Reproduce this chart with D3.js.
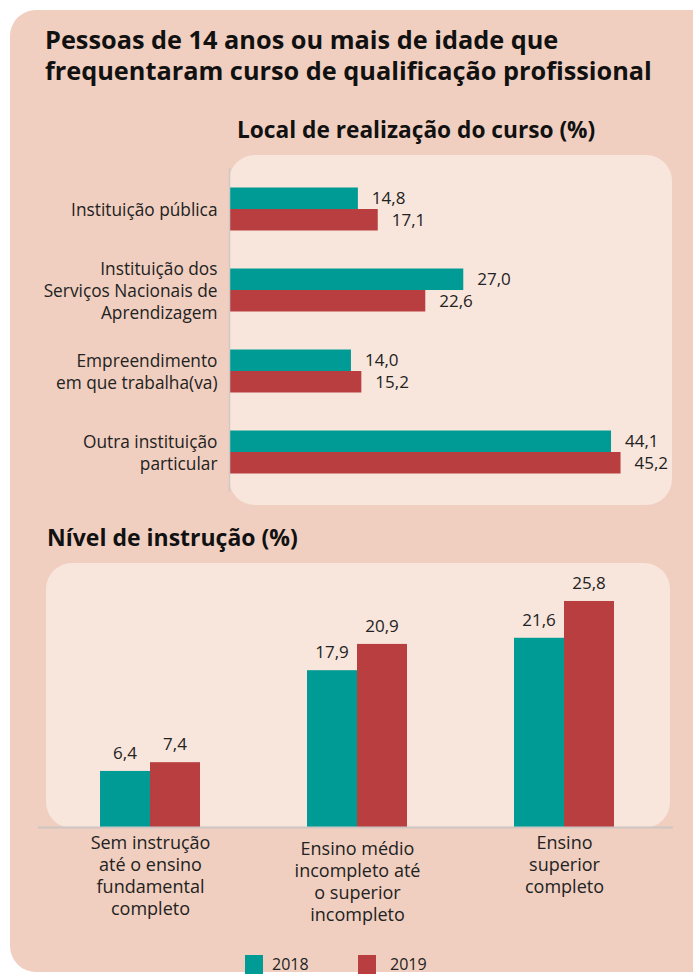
<!DOCTYPE html>
<html>
<head>
<meta charset="utf-8">
<script src="https://cdn.jsdelivr.net/npm/d3@7"></script>
<style>
  body { margin: 0; background: #fff; }
  svg { display: block; font-family: "Open Sans", sans-serif; }
</style>
</head>
<body>
<div id="chart"></div>
<script>
const years = ["2018", "2019"];
const colors = ["#009b94", "#b93e3f"];

const titleLines = [
  "Pessoas de 14 anos ou mais de idade que",
  "frequentaram curso de qualificação profissional"
];

const localCats = [
  ["Instituição pública"],
  ["Instituição dos", "Serviços Nacionais de", "Aprendizagem"],
  ["Empreendimento", "em que trabalha(va)"],
  ["Outra instituição", "particular"]
];
const local2018 = [14.8, 27.0, 14.0, 44.1];
const local2019 = [17.1, 22.6, 15.2, 45.2];

const nivelCats = [
  ["Sem instrução", "até o ensino", "fundamental", "completo"],
  ["Ensino médio", "incompleto até", "o superior", "incompleto"],
  ["Ensino", "superior", "completo"]
];
const nivel2018 = [6.4, 17.9, 21.6];
const nivel2019 = [7.4, 20.9, 25.8];

const fmt = v => v.toFixed(1).replace(".", ",");

const width = 693, height = 974;
const svg = d3.select("#chart").append("svg")
  .attr("width", width)
  .attr("height", height);

// panels
svg.append("rect")
  .attr("x", 10).attr("y", 10).attr("width", 740).attr("height", 962)
  .attr("rx", 26).attr("fill", "#f0cfc0");
svg.append("rect")
  .attr("x", 229).attr("y", 155).attr("width", 443).attr("height", 350)
  .attr("rx", 26).attr("fill", "#f8e6dc");
svg.append("rect")
  .attr("x", 46).attr("y", 563).attr("width", 624).attr("height", 265)
  .attr("rx", 26).attr("fill", "#f8e5db");

// titles
svg.selectAll("text.title").data(titleLines).enter().append("text")
  .attr("class", "title")
  .attr("x", 45).attr("y", (d, i) => 49 + i * 31)
  .attr("font-size", 25.3).attr("font-weight", 700).attr("fill", "#111")
  .text(d => d);

svg.append("text").attr("x", 237).attr("y", 138)
  .attr("font-size", 22.7).attr("font-weight", 700).attr("fill", "#111")
  .text("Local de realização do curso (%)");

svg.append("text").attr("x", 47).attr("y", 546)
  .attr("font-size", 23).attr("font-weight", 700).attr("fill", "#111")
  .text("Nível de instrução (%)");

// ---- horizontal bars
const localKeys = localCats.map(d => d.join(" "));
const x1 = d3.scaleLinear().domain([0, 50]).range([230, 662]);
const y1 = d3.scalePoint().domain(localKeys).range([209, 452]);
const y1sub = d3.scaleBand().domain(years).range([-21.5, 21.5]);

const localRows = localKeys.map((k, i) => ({ key: k, vals: [local2018[i], local2019[i]] }));

const g1 = svg.append("g");
const rows1 = g1.selectAll("g.row").data(localRows).enter().append("g")
  .attr("transform", d => `translate(0,${y1(d.key)})`);

rows1.selectAll("rect").data(d => d.vals.map((v, j) => ({ v, year: years[j], c: colors[j] })))
  .enter().append("rect")
  .attr("x", x1(0))
  .attr("y", d => y1sub(d.year))
  .attr("width", d => x1(d.v) - x1(0))
  .attr("height", y1sub.bandwidth())
  .attr("fill", d => d.c);

rows1.selectAll("text.val").data(d => d.vals.map((v, j) => ({ v, year: years[j] })))
  .enter().append("text")
  .attr("class", "val")
  .attr("x", d => x1(d.v) + 14)
  .attr("y", d => y1sub(d.year) + y1sub.bandwidth() / 2 + 6)
  .attr("font-size", 17).attr("fill", "#222")
  .text(d => fmt(d.v));

const yAxis1 = d3.axisLeft(y1).tickSize(0).tickPadding(12);
const ax1 = svg.append("g").attr("transform", "translate(229.5,0)").call(yAxis1);
ax1.select(".domain").remove();
ax1.append("line").attr("x1", 0).attr("x2", 0).attr("y1", 168).attr("y2", 492)
  .attr("stroke", "#cfc8c4").attr("stroke-width", 1.5);
ax1.selectAll(".tick text").each(function (d, i) {
  const lines = localCats[i];
  const t = d3.select(this).text(null)
    .attr("font-size", 17.3).attr("fill", "#222").attr("font-family", "'Open Sans', sans-serif")
    .attr("dy", null).attr("x", -12);
  lines.forEach((l, k) => {
    t.append("tspan").attr("x", -12)
      .attr("y", (k - (lines.length - 1) / 2) * 22 + 6)
      .text(l);
  });
});

// ---- vertical bars
const nivelKeys = nivelCats.map(d => d.join(" "));
const x2 = d3.scalePoint().domain(nivelKeys).range([150, 564]);
const x2sub = d3.scaleBand().domain(years).range([-50, 50]);
const y2 = d3.scaleLinear().domain([0, 30]).range([827, 827 - 30 * 8.76]);

const nivelRows = nivelKeys.map((k, i) => ({ key: k, vals: [nivel2018[i], nivel2019[i]] }));

const cols = svg.append("g").selectAll("g.col").data(nivelRows).enter().append("g")
  .attr("transform", d => `translate(${x2(d.key)},0)`);

cols.selectAll("rect").data(d => d.vals.map((v, j) => ({ v, year: years[j], c: colors[j] })))
  .enter().append("rect")
  .attr("x", d => x2sub(d.year))
  .attr("y", d => y2(d.v))
  .attr("width", x2sub.bandwidth())
  .attr("height", d => y2(0) - y2(d.v))
  .attr("fill", d => d.c);

cols.selectAll("text.val").data(d => d.vals.map((v, j) => ({ v, year: years[j] })))
  .enter().append("text")
  .attr("class", "val")
  .attr("x", d => x2sub(d.year) + x2sub.bandwidth() / 2)
  .attr("y", d => y2(d.v) - 12)
  .attr("text-anchor", "middle")
  .attr("font-size", 17).attr("fill", "#222")
  .text(d => fmt(d.v));

const xAxis2 = d3.axisBottom(x2).tickSize(0).tickPadding(0);
const ax2 = svg.append("g").attr("transform", `translate(0,${y2(0)})`).call(xAxis2);
ax2.select(".domain").remove();
ax2.append("line").attr("x1", 38).attr("x2", 673).attr("y1", 0.5).attr("y2", 0.5)
  .attr("stroke", "#cdc6c2").attr("stroke-width", 2);
const firstLine = [22, 28, 22];
ax2.selectAll(".tick text").each(function (d, i) {
  const lines = nivelCats[i];
  const t = d3.select(this).text(null).attr("dy", null).attr("y", null)
    .attr("font-size", 18).attr("fill", "#222").attr("font-family", "'Open Sans', sans-serif");
  lines.forEach((l, k) => {
    t.append("tspan").attr("x", 0).attr("y", firstLine[i] + k * 22).text(l);
  });
});

// legend
const legend = svg.append("g").selectAll("g").data(years).enter().append("g")
  .attr("transform", (d, i) => `translate(${[245, 358][i]},955)`);
legend.append("rect").attr("width", 18).attr("height", 19).attr("fill", (d, i) => colors[i]);
legend.append("text").attr("x", (d, i) => [27, 32][i]).attr("y", 15)
  .attr("font-size", 16).attr("fill", "#222").text(d => d);
</script>
</body>
</html>
